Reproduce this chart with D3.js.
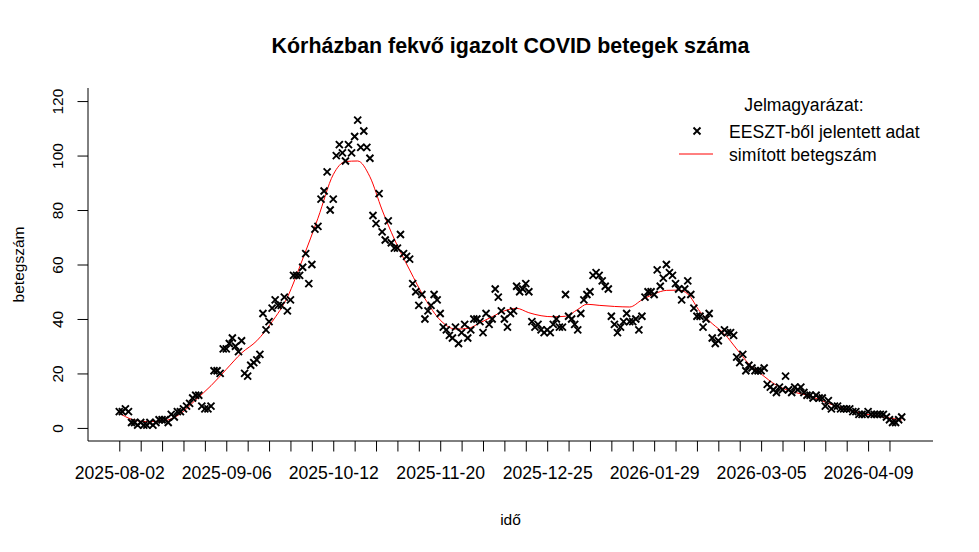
<!DOCTYPE html>
<html>
<head>
	<meta charset="utf-8">
	<title>COVID betegek</title>
	<script type="text/javascript" src="https://d3js.org/d3.v7.min.js"></script>
	<style>
		body { margin: 0; background: #fff; }
		text { font-family: "Liberation Sans", Arial, sans-serif; fill: #000; }
	</style>
</head>
<body>

	<script type="text/javascript">
		// daily reported patients (EESZT), one value per data row
		var cases = [
			6,6,7,6,2,2,1,2,1,1, 2,1,2,3,3,3,2,5,4,6,
			6,7,8,9,11,12,12,8,7,7, 8,21,21,20,29,29,31,33,30,28,
			32,20,19,23,24,25,27,42,36,39, 44,47,45,45,48,43,47,56,56,56,
			59,64,53,60,73,74,84,87,94,80, 84,100,104,101,98,104,101,107,113,103,
			109,103,99,78,75,86,72,69,76,68, 66,66,71,64,63,62,53,50,45,49,
			40,43,45,49,47,42,37,36,34,33, 37,31,35,38,33,36,40,40,39,35,
			42,38,40,51,48,43,40,37,42,43, 52,50,51,53,50,39,37,38,36,35,
			36,35,38,40,37,37,49,41,40,38, 36,42,47,49,50,56,57,56,54,52,
			51,41,38,35,37,39,42,39,39,40, 36,41,48,50,50,49,58,52,55,60,
			57,56,53,51,47,51,54,49,44,41, 41,37,40,42,33,31,32,35,36,35,
			35,34,26,24,27,21,23,22,21,21, 21,22,16,15,14,13,15,14,19,14,
			13,15,14,15,13,12,12,11,12,11, 11,8,10,7,8,8,7,7,7,7,
			6,6,5,5,5,6,5,5,5,5, 5,4,3,2,2,3,4
		];

		// smoothed curve, read at selected row positions
		var smoothIdx = [0,4,9,14,20,25,30,35,40,45,50,55,60,65,70,74,78,82,86,90,95,100,105,110,114,118,122,126,130,134,138,142,146,150,153,157,162,167,171,175,179,183,186,190,194,198,202,206,210,215,220,226,232,238,244,250,256];
		var smoothVal = [5.4,3.2,2.3,2.5,5.2,10.3,15.5,21.5,27.5,32,39,48,62,77,93,97.8,98,92.2,80,69.3,58,47.5,39.6,36.3,36.5,38.6,40.8,43,43.9,42.3,41.2,40.8,41,43.5,45.4,45,44.6,44.4,47,49.2,50.5,50.6,49.2,42.7,38.3,34.5,29,23.5,19.8,15.7,13.4,11.7,9,6.8,5.1,4,2.9];

		var dateLabels = ["2025-08-02","2025-09-06","2025-10-12","2025-11-20","2025-12-25","2026-01-29","2026-03-05","2026-04-09"];
		var yTicks = [0,20,40,60,80,100,120];

		var W = 979, H = 552;
		var padL = 88, padR = 933, padT = 88, padB = 441;
		var n = cases.length - 1;

		var svg = d3.select("body").append("svg").attr("width",W).attr("height",H);

		// R style 4% padding around the data range
		var x = d3.scaleLinear().domain([-0.04*n, 1.04*n]).range([padL, padR]);
		var y = d3.scaleLinear().domain([-4.8, 124.8]).range([padB, padT]);

		// x axis: tick each week, label every 5th week
		var tickIdx = d3.range(0, n, 7);
		var xAxis = d3.axisBottom(x).tickValues(tickIdx).tickSize(10.5).tickPadding(0)
			.tickFormat(function (d){ return d % 35 === 0 ? dateLabels[d/35] : ""; });
		var gx = svg.append("g").attr("transform","translate(0," + padB + ")").call(xAxis);
		gx.select(".domain").remove();
		gx.selectAll("line").attr("stroke","#000");
		gx.selectAll("text").attr("font-size","17.6px").attr("dy",null).attr("y",32)
			.attr("dominant-baseline","central");

		var yAxis = d3.axisLeft(y).tickValues(yTicks).tickSize(10.5).tickPadding(0);
		var gy = svg.append("g").attr("transform","translate(" + padL + ",0)").call(yAxis);
		gy.select(".domain").remove();
		gy.selectAll("line").attr("stroke","#000");
		gy.selectAll("text").attr("font-size","15.5px").attr("x",null).attr("dy",null)
			.attr("text-anchor","middle").attr("dominant-baseline","central")
			.attr("transform","translate(-31,0) rotate(-90)");

		// L shaped box
		svg.append("path").attr("d","M" + padL + "," + padT + "V" + padB + "H" + padR)
			.attr("fill","none").attr("stroke","#000").attr("stroke-width",1);

		// smoothed line
		var line = d3.line()
			.x(function (d){ return x(d[0]); })
			.y(function (d){ return y(d[1]); })
			.curve(d3.curveMonotoneX);
		svg.append("path").datum(d3.zip(smoothIdx, smoothVal))
			.attr("d", line).attr("fill","none").attr("stroke","red").attr("stroke-width",1);

		// data crosses
		var cross = "M-3.5,-3.5L3.5,3.5M-3.5,3.5L3.5,-3.5";
		svg.append("g").selectAll("path").data(cases).enter().append("path")
			.attr("d", cross)
			.attr("transform", function (d,i){ return "translate(" + x(i) + "," + y(d) + ")"; })
			.attr("stroke","#000").attr("stroke-width",1.9).attr("fill","none");

		// titles
		svg.append("text").attr("x",(padL+padR)/2).attr("y",46).attr("text-anchor","middle")
			.attr("dominant-baseline","central").attr("font-size","21.4px").attr("font-weight","bold")
			.text("Kórházban fekvő igazolt COVID betegek száma");
		svg.append("text").attr("x",(padL+padR)/2).attr("y",519).attr("text-anchor","middle")
			.attr("dominant-baseline","central").attr("font-size","15.5px").text("idő");
		svg.append("text").attr("transform","translate(18," + (padT+padB)/2 + ") rotate(-90)")
			.attr("text-anchor","middle").attr("dominant-baseline","central")
			.attr("font-size","15.5px").text("betegszám");

		// legend
		var lg = svg.append("g");
		lg.append("text").attr("x",804).attr("y",105).attr("text-anchor","middle")
			.attr("dominant-baseline","central").attr("font-size","17.6px").text("Jelmagyarázat:");
		lg.append("path").attr("d",cross).attr("transform","translate(697,131)")
			.attr("stroke","#000").attr("stroke-width",1.9);
		lg.append("text").attr("x",729).attr("y",132).attr("dominant-baseline","central")
			.attr("font-size","17.6px").text("EESZT-ből jelentett adat");
		lg.append("line").attr("x1",679).attr("x2",713).attr("y1",154).attr("y2",154)
			.attr("stroke","red").attr("stroke-width",1);
		lg.append("text").attr("x",729).attr("y",155).attr("dominant-baseline","central")
			.attr("font-size","17.6px").text("simított betegszám");
	</script>
</body>
</html>
